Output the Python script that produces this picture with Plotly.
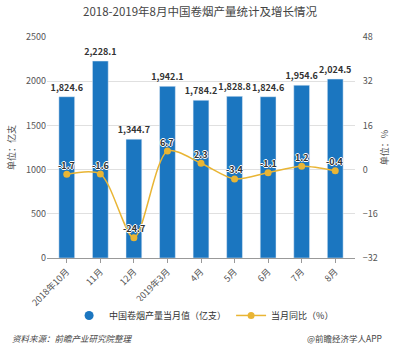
import plotly.graph_objects as go

categories = ["2018年10月", "11月", "12月", "2019年3月", "4月", "5月", "6月", "7月", "8月"]
output_values = [1824.6, 2228.1, 1344.7, 1942.1, 1784.2, 1828.8, 1824.6, 1954.6, 2024.5]
yoy_values = [-1.7, -1.6, -24.7, 6.7, 2.3, -3.4, -1.1, 1.2, -0.4]
left_ticks = [0, 500, 1000, 1500, 2000, 2500]
right_ticks = [-32, -16, 0, 16, 32, 48]

BLUE = "#1b76c0"
GOLD = "#e9b534"
FONT = "Noto Sans CJK SC"

fig = go.Figure()

fig.add_trace(go.Bar(
    x=categories, y=output_values, marker_color=BLUE, width=0.47,
    text=[f"{v:,.1f}" for v in output_values], textposition="outside",
    constraintext="none",
    textfont=dict(size=9, color="#333333", family=FONT, weight=600), cliponaxis=False,
    showlegend=False, yaxis="y",
))

fig.add_trace(go.Scatter(
    x=[None], y=[None], mode="markers", name="中国卷烟产量当月值（亿支）",
    marker=dict(color=BLUE, size=9, symbol="circle"), yaxis="y",
))

fig.add_trace(go.Scatter(
    x=categories, y=yoy_values, mode="lines+markers", name="当月同比（%）",
    line=dict(color=GOLD, width=1.5, shape="spline", smoothing=0.8),
    marker=dict(color=GOLD, size=7),
    cliponaxis=False, yaxis="y2",
))

annotations = [
    dict(x=c, y=v, xref="x", yref="y2", text=f"{v:.1f}", showarrow=False, yshift=9,
         font=dict(size=9, color="#333333", family=FONT, weight=600,
                   shadow="1px 0 0 white, -1px 0 0 white, 0 1px 0 white, 0 -1px 0 white"))
    for c, v in zip(categories, yoy_values)
]
annotations += [
    dict(text="<i>资料来源：前瞻产业研究院整理</i>", xref="paper", yref="paper", x=-0.12, y=-0.36,
         xanchor="left", yanchor="middle", showarrow=False,
         font=dict(size=8.5, color="#444444")),
    dict(text="@前瞻经济学人APP", xref="paper", yref="paper", x=1.095, y=-0.36,
         xanchor="right", yanchor="middle", showarrow=False,
         font=dict(size=8.5, color="#444444")),
]

fig.update_layout(
    width=400, height=348,
    margin=dict(l=45, r=31, t=37, b=90),
    paper_bgcolor="white", plot_bgcolor="white",
    font=dict(family=FONT, size=9, color="#555555"),
    title=dict(text="2018-2019年8月中国卷烟产量统计及增长情况", x=0.5, xanchor="center",
               y=0.965, yanchor="middle",
               font=dict(size=11.5, color="#444444", family=FONT, weight=400)),
    bargap=0.5,
    xaxis=dict(tickangle=-45, ticks="outside", ticklen=4, tickcolor="#999999",
               showline=True, linecolor="#999999", linewidth=1,
               tickfont=dict(size=9, color="#555555")),
    yaxis=dict(range=[0, 2500], tickvals=left_ticks, showgrid=True, gridcolor="#e0e0e0",
               zeroline=False, showline=False, ticks="", tickfont=dict(size=9, color="#555555"),
               title=dict(text="单位：亿支", font=dict(size=9, color="#555555"), standoff=8)),
    yaxis2=dict(range=[-32, 48], tickvals=right_ticks, overlaying="y", side="right",
                showgrid=False, zeroline=False, showline=False,
                ticks="outside", ticklen=5, tickcolor="rgba(0,0,0,0)",
                tickfont=dict(size=9, color="#555555"),
                title=dict(text="单位：%", font=dict(size=9, color="#555555"), standoff=4)),
    legend=dict(orientation="h", x=0.51, xanchor="center", y=-0.26, yanchor="middle",
                font=dict(size=9, color="#333333"), itemwidth=30),
    annotations=annotations,
)

fig.write_html("out.html")
